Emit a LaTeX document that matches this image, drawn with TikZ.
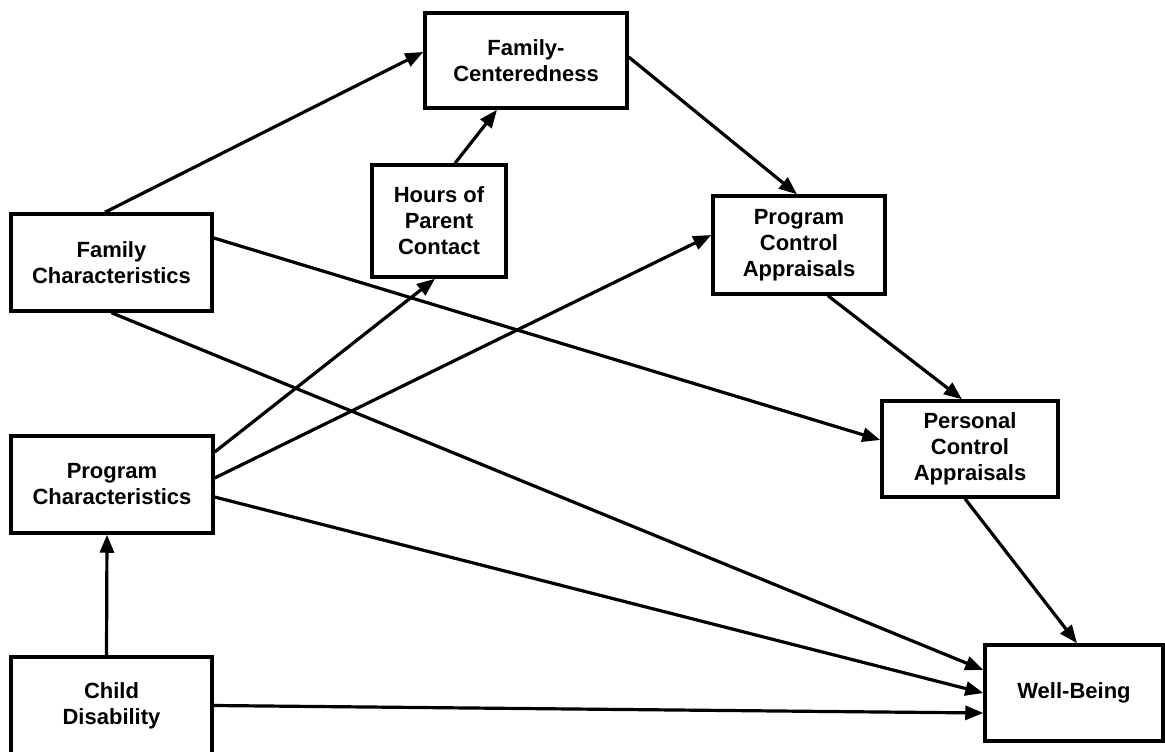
\documentclass[tikz,border=0pt]{standalone}
\usepackage{fontspec}
\setmainfont{Liberation Sans}
\usetikzlibrary{arrows.meta}
\begin{document}
\begin{tikzpicture}[x=0.75pt,y=-0.75pt,
  box/.style={draw,line width=2.6pt,rectangle,align=center,inner sep=0pt,
    font=\fontsize{16.5}{19.5}\selectfont\bfseries},
  conn/.style={line width=2.4pt,-{Triangle[length=13.5pt,width=10.5pt]}}]
\useasboundingbox (0,0) rectangle (1165,751);
\fill[white] (0,0) rectangle (1165,751);
\node[box,minimum width=202*0.75pt,minimum height=95*0.75pt] (famcent) at (526,60.5) {Family-\\Centeredness};
\node[box,minimum width=134*0.75pt,minimum height=112*0.75pt] (hours) at (439,221) {Hours of\\Parent\\Contact};
\node[box,minimum width=172*0.75pt,minimum height=98*0.75pt] (pca) at (799,245) {Program\\Control\\Appraisals};
\node[box,minimum width=201*0.75pt,minimum height=97*0.75pt] (famchar) at (111.5,262.5) {Family\\Characteristics};
\node[box,minimum width=176*0.75pt,minimum height=96*0.75pt] (pers) at (970,449) {Personal\\Control\\Appraisals};
\node[box,minimum width=202*0.75pt,minimum height=97*0.75pt] (progchar) at (112,484.5) {Program\\Characteristics};
\node[box,minimum width=201*0.75pt,minimum height=97*0.75pt] (child) at (111.5,705.5) {Child\\Disability};
\node[box,minimum width=178*0.75pt,minimum height=96*0.75pt] (wb) at (1074,693) {Well-Being};
% connectors
\draw[conn] ([xshift=-4.9pt]famchar.north) -- ([yshift=6.4pt]famcent.west);
\draw[conn] ([xshift=12pt]hours.north) -- ([xshift=-21.75pt]famcent.south);
\draw[conn] ([yshift=2.6pt]famcent.east) -- ([xshift=-1.5pt]pca.north);
\draw[conn] ([yshift=18.4pt]famchar.east) -- ([yshift=6.75pt]pers.west);
\draw[conn] (famchar.south) -- ([yshift=17.25pt]wb.west);
\draw[conn] ([yshift=24.4pt]progchar.east) -- ([xshift=-3pt]hours.south);
\draw[conn] ([yshift=4.9pt]progchar.east) -- ([yshift=7.5pt]pca.west);
\draw[conn] ([yshift=-9.4pt]progchar.east) -- (wb.west);
\draw[conn] ([xshift=-3.75pt]child.north) -- ([xshift=-3.75pt]progchar.south);
\draw[conn] (child.east) -- ([yshift=-15pt]wb.west);
\draw[conn] ([xshift=21.75pt]pca.south) -- ([xshift=-6pt]pers.north);
\draw[conn] ([xshift=-3.75pt]pers.south) -- ([xshift=2.25pt]wb.north);
\end{tikzpicture}
\end{document}
